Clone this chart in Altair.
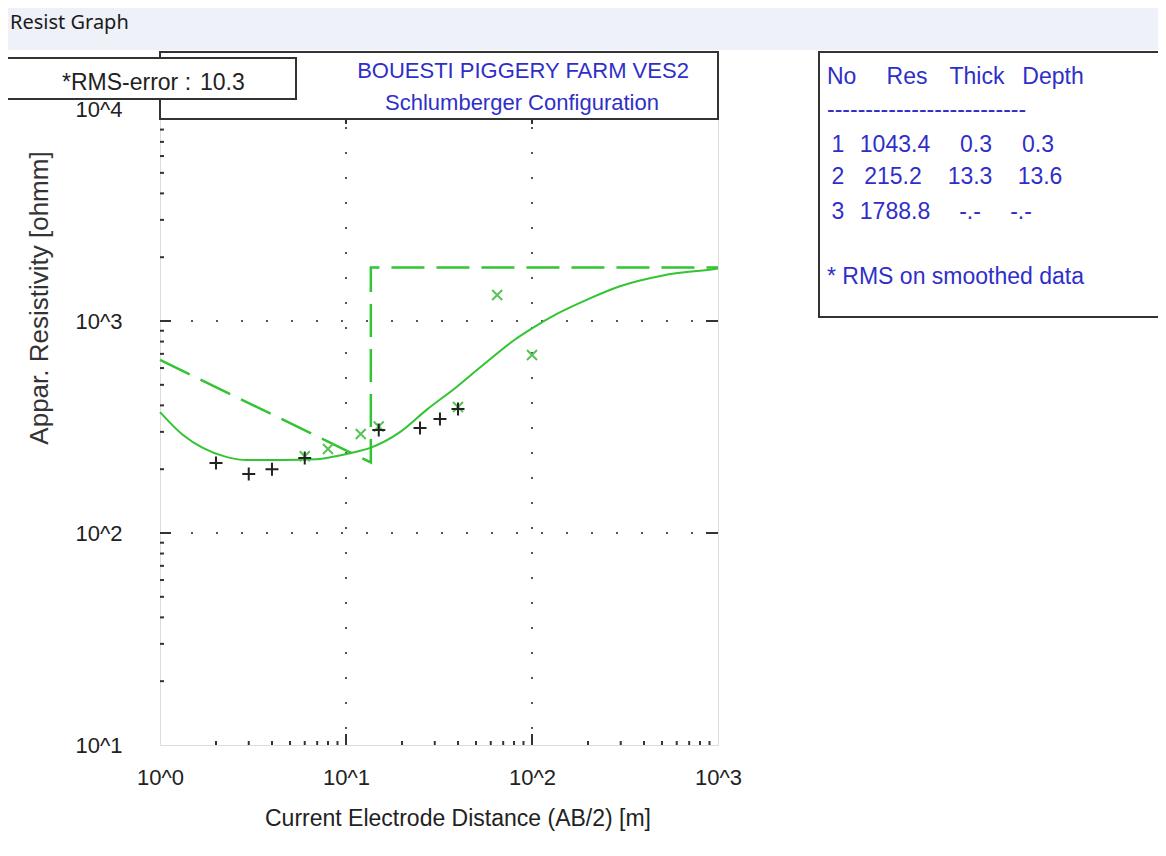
import altair as alt
import pandas as pd

# ---------------- data ----------------
obs_x = [2, 3, 4, 6, 15, 25, 32, 40]
obs_y = [214, 190, 200, 226, 306, 313, 345, 385]

smooth_x = [6, 8, 12, 15, 40, 65, 100]
smooth_y = [230, 249, 293, 318, 393, 1327, 692]

curve_x = [1.0, 1.33, 1.70, 2.29, 2.94, 4.59, 6.98, 8.95, 10.5, 13.5, 19.5,
           27.3, 39.5, 52.5, 79, 101, 136, 198, 297, 506, 940, 1000]
curve_y = [372, 290, 252, 228, 221, 221, 223, 231, 238, 252, 299,
           383, 490, 603, 805, 928, 1080, 1262, 1458, 1640, 1755, 1768]

model_x = [1, 13.6, 13.6, 1000]
model_y = [655, 215.2, 1788.8, 1788.8]

layer_no = ["1", "2", "3"]
layer_res = ["1043.4", "215.2", "1788.8"]
layer_thick = ["0.3", "13.3", "-.-"]
layer_depth = ["0.3", "13.6", "-.-"]

x_labels = [1, 10, 100, 1000]
y_labels = [10, 100, 1000, 10000]
x_major = [10, 100]
y_major = [100, 1000]
x_minor = [m * 10 ** k for k in range(0, 3) for m in range(2, 10)]
y_minor = [m * 10 ** k for k in range(1, 4) for m in range(2, 10)]

title_lines = ["BOUESTI PIGGERY FARM VES2", "Schlumberger Configuration"]
rms_label = "*RMS-error :"
rms_value = "10.3"
x_title = "Current Electrode Distance (AB/2) [m]"
y_title = "Appar. Resistivity [ohmm]"
window_title = "Resist Graph"

# ---------------- styling ----------------
W, H = 558, 693
FONT = "Liberation Sans"
BLUE = "#2f2fc8"
GREEN = "#33c433"
GREEN_PT = "#55c455"
DARK = "#222222"
FRAME = "#333333"

xs = alt.Scale(type="log", domain=[1, 1000], nice=False)
ys = alt.Scale(type="log", domain=[10, 18580], nice=False)

xax = alt.Axis(values=x_labels, labelExpr="'10^' + round(log(datum.value)/LN10)",
               grid=False, ticks=False, tickSize=0, domain=False, title=None,
               labelFont=FONT, labelFontSize=22, labelColor=DARK,
               labelPadding=22, labelFlush=False, labelOverlap=False)
yax = alt.Axis(values=y_labels, labelExpr="'10^' + round(log(datum.value)/LN10)",
               grid=False, ticks=False, tickSize=0, domain=False, title=None,
               labelFont=FONT, labelFontSize=22, labelColor=DARK,
               labelPadding=38, labelFlush=False, labelOverlap=False)

X = lambda: alt.X("x:Q", scale=xs, axis=xax)
Y = lambda: alt.Y("y:Q", scale=ys, axis=yax)

one = pd.DataFrame({"k": [0]})


def box(x1, x2, y1, y2, fill="white", stroke=FRAME, sw=2):
    kw = dict(fill=fill)
    if stroke:
        kw.update(stroke=stroke, strokeWidth=sw)
    else:
        kw.update(strokeWidth=0)
    return alt.Chart(one).mark_rect(**kw).encode(
        x=alt.value(x1), x2=alt.value(x2), y=alt.value(y1), y2=alt.value(y2))


def txt(s, x, y, size=23, color=BLUE, align="left", angle=0, font=FONT):
    return alt.Chart(one).mark_text(text=s, align=align, baseline="middle",
                                    fontSize=size, color=color, font=font,
                                    angle=angle).encode(x=alt.value(x), y=alt.value(y))


layers = []

# window header bar
layers.append(box(-152, 998, -44, -2, fill="#eef1f8", stroke=None))
layers.append(txt(window_title, -150, -29, size=20, color="#1a1a1a", font="Noto Sans"))

# dotted grid
gx = pd.DataFrame({"x": x_major})
gy = pd.DataFrame({"y": y_major})
layers.append(alt.Chart(gx).mark_rule(color="#555", strokeWidth=2, strokeDash=[2, 23])
              .encode(x=X()))
layers.append(alt.Chart(gy).mark_rule(color="#555", strokeWidth=2, strokeDash=[2, 23])
              .encode(y=Y()))

# inward ticks
ymaj = pd.DataFrame({"y": y_major})
ymin = pd.DataFrame({"y": y_minor})
xmaj = pd.DataFrame({"x": x_major})
xmin = pd.DataFrame({"x": x_minor})
tk = dict(color=FRAME, strokeWidth=2)
layers.append(alt.Chart(ymaj).mark_rule(**tk).encode(y=Y(), x=alt.value(0), x2=alt.value(11)))
layers.append(alt.Chart(ymin).mark_rule(**tk).encode(y=Y(), x=alt.value(0), x2=alt.value(4)))
layers.append(alt.Chart(ymaj).mark_rule(**tk).encode(y=Y(), x=alt.value(W), x2=alt.value(W - 12)))
layers.append(alt.Chart(xmaj).mark_rule(**tk).encode(x=X(), y=alt.value(H), y2=alt.value(H - 11)))
layers.append(alt.Chart(xmin).mark_rule(**tk).encode(x=X(), y=alt.value(H), y2=alt.value(H - 4)))

# layer model (dashed)
mdf = pd.DataFrame({"x": model_x, "y": model_y, "i": list(range(len(model_x)))})
layers.append(alt.Chart(mdf).mark_line(color=GREEN, strokeWidth=2.5, strokeDash=[33, 12])
              .encode(x=X(), y=Y(), order="i:Q"))

# model response curve
cdf = pd.DataFrame({"x": curve_x, "y": curve_y, "i": list(range(len(curve_x)))})
layers.append(alt.Chart(cdf).mark_line(color=GREEN, strokeWidth=2, interpolate="monotone")
              .encode(x=X(), y=Y(), order="i:Q"))

# smoothed data (green x)
sdf = pd.DataFrame({"x": smooth_x, "y": smooth_y})
layers.append(alt.Chart(sdf).mark_point(shape="M-1,-1L1,1M-1,1L1,-1", size=100, filled=False,
                                        stroke=GREEN_PT, strokeWidth=2, opacity=1)
              .encode(x=X(), y=Y()))

# field data (black +)
odf = pd.DataFrame({"x": obs_x, "y": obs_y})
layers.append(alt.Chart(odf).mark_point(shape="M-1,0L1,0M0,-1L0,1", size=169, filled=False,
                                        stroke=DARK, strokeWidth=2, opacity=1)
              .encode(x=X(), y=Y()))

# title box inside plot frame
layers.append(box(0, W, 0, 67))
layers.append(alt.Chart(xmaj).mark_rule(**tk).encode(x=X(), y=alt.value(67), y2=alt.value(72)))
layers.append(txt(title_lines[0], 363, 19, size=22, align="center"))
layers.append(txt(title_lines[1], 362, 51, size=22, align="center"))

# RMS box
layers.append(box(-154, 136, 6, 47))
layers.append(txt(rms_label, -98, 31, size=23, color=DARK))
layers.append(txt(rms_value, 40, 31, size=23, color=DARK))

# layer table box
layers.append(box(659, 1010, 0, 265))
layers.append(txt("No", 667, 25))
layers.append(txt("Res", 747, 25, align="center"))
layers.append(txt("Thick", 817, 25, align="center"))
layers.append(txt("Depth", 893, 25, align="center"))
layers.append(txt("-" * 26, 667, 58))
row_y = [93, 125, 160]
res_cx = [735, 733, 735]
thick_cx = [816, 810, 810]
depth_cx = [878, 880, 861]
for i in range(3):
    layers.append(txt(layer_no[i], 678, row_y[i], align="center"))
    layers.append(txt(layer_res[i], res_cx[i], row_y[i], align="center"))
    layers.append(txt(layer_thick[i], thick_cx[i], row_y[i], align="center"))
    layers.append(txt(layer_depth[i], depth_cx[i], row_y[i], align="center"))
layers.append(txt("* RMS on smoothed data", 667, 225))

# axis titles
layers.append(txt(x_title, 298, 767, size=23, color=DARK, align="center"))
layers.append(txt(y_title, -120, 246, size=26, color="#333333", align="center", angle=270))

chart = (alt.layer(*layers)
         .properties(width=W, height=H,
                     autosize=alt.AutoSizeParams(type="none"),
                     padding={"left": 152, "top": 44, "right": 440, "bottom": 97})
         .configure_view(stroke=FRAME, strokeWidth=2)
         .configure(background="white"))

chart.save("out.html", embed_options={"renderer": "svg", "actions": False})
